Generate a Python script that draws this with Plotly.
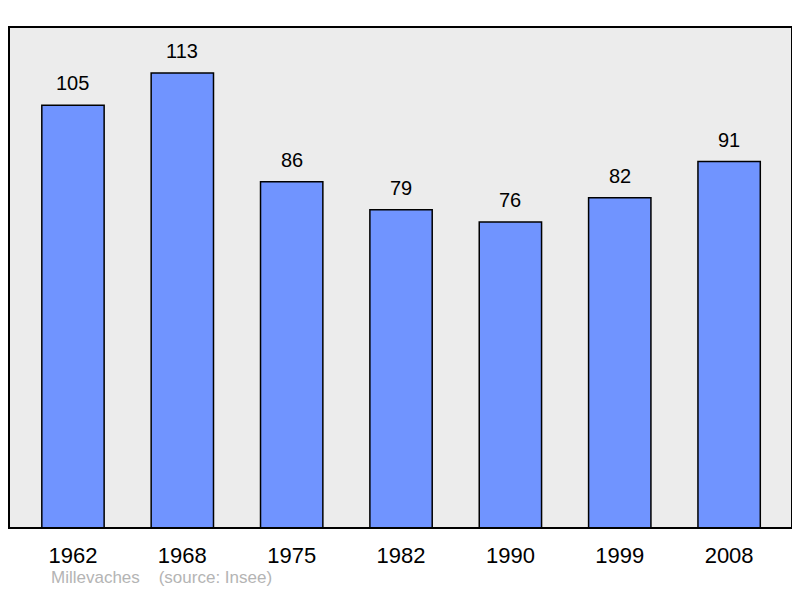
import plotly.graph_objects as go

years = ["1962", "1968", "1975", "1982", "1990", "1999", "2008"]
population = [105, 113, 86, 79, 76, 82, 91]

fig = go.Figure()
fig.add_trace(go.Bar(
    x=list(range(len(years))), y=population,
    width=0.57,
    marker=dict(color="#7094ff", line=dict(color="#000000", width=1.5)),
    hoverinfo="skip",
))
for i, v in enumerate(population):
    fig.add_annotation(x=i, y=v, text=str(v), showarrow=False, yanchor="bottom",
                       yshift=9, font=dict(size=20, color="#000000"))

fig.add_annotation(xref="paper", yref="paper", x=0.0505, y=-0.0998, xanchor="left", yanchor="middle",
                   text="Millevaches&nbsp;&nbsp;&nbsp;&nbsp;(source: Insee)", showarrow=False,
                   font=dict(size=17, color="#b4b4b4"))

fig.add_shape(type="rect", xref="paper", yref="paper", x0=0, x1=1, y0=0, y1=1,
              line=dict(color="#000000", width=2), layer="above")

fig.update_layout(
    width=784, height=582,
    margin=dict(l=1, r=0, t=19, b=62),
    paper_bgcolor="#ffffff", plot_bgcolor="#ececec",
    font=dict(family="Liberation Sans, Arial, sans-serif", color="#000000"),
    showlegend=False,
)
fig.update_xaxes(range=[-0.585, 6.575], tickvals=list(range(len(years))), ticktext=years,
                 tickfont=dict(size=22), ticks="outside", ticklen=8, tickcolor="rgba(0,0,0,0)",
                 showline=False, showgrid=False, zeroline=False)
fig.update_yaxes(range=[0, 124.4], showticklabels=False, showline=False,
                 showgrid=False, zeroline=False)

fig.write_html("out.html")
